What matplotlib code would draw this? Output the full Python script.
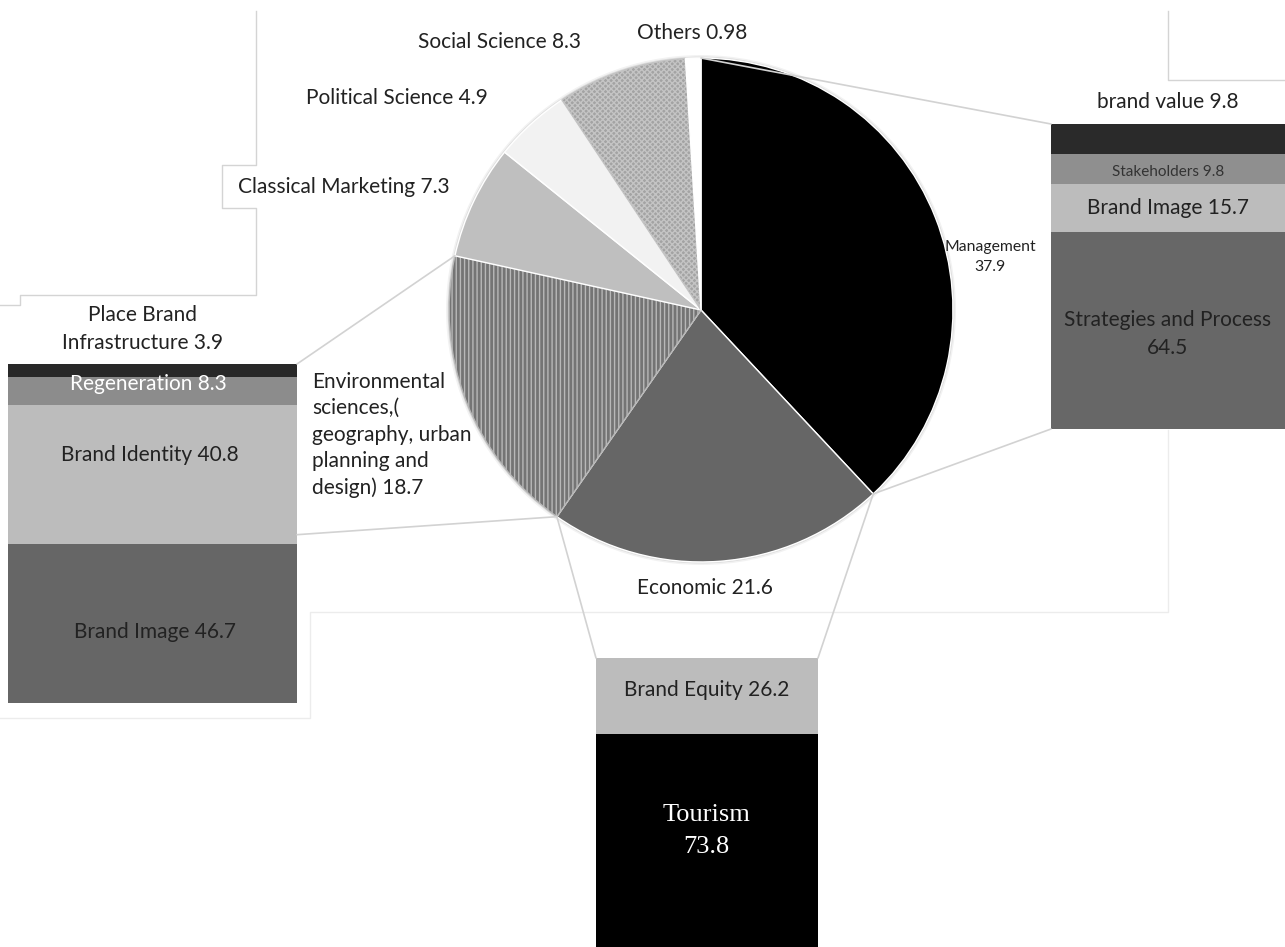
import numpy as np
import matplotlib.pyplot as plt
from matplotlib.patches import ConnectionPatch, Circle

W, H = 1285, 947

pie_labels = ["Management\n", "Economic",
              "Environmental\nsciences,(\ngeography, urban\nplanning and\ndesign)",
              "Classical Marketing", "Political Science", "Social Science", "Others"]
pie_values = [37.9, 21.6, 18.7, 7.3, 4.9, 8.3, 0.98]
pie_colors = ["#000000", "#666666", "#747474", "#bfbfbf", "#f2f2f2", "#a3a3a3", "#ffffff"]

left_labels = ["Brand Image", "Brand Identity", "Regeneration", "Place Brand\nInfrastructure"]
left_values = [46.7, 40.8, 8.3, 3.9]
left_colors = ["#666666", "#bcbcbc", "#8c8c8c", "#282828"]

right_labels = ["Strategies and Process\n", "Brand Image", "Stakeholders", "brand value"]
right_values = [64.5, 15.7, 9.8, 9.8]
right_colors = ["#676767", "#bcbcbc", "#8f8f8f", "#2a2a2a"]

bottom_labels = ["Tourism\n", "Brand Equity"]
bottom_values = [73.8, 26.2]
bottom_colors = ["#000000", "#bcbcbc"]

SANS = ["Lato", "DejaVu Sans"]
TXT = "#222222"
FS = 15


def px_axes(fig, x0, y0, x1, y1):
    return fig.add_axes([x0 / W, 1 - y1 / H, (x1 - x0) / W, (y1 - y0) / H])


def px_text(fig, x, y, s, **kw):
    kw.setdefault("ha", "center")
    kw.setdefault("va", "center")
    kw.setdefault("color", TXT)
    kw.setdefault("family", SANS)
    kw.setdefault("fontsize", FS)
    fig.text(x / W, 1 - y / H, s, **kw)


def stack(ax, values, colors):
    bottom = 0
    for v, c in zip(values, colors):
        ax.bar(0, v, bottom=bottom, width=1, color=c, linewidth=0)
        bottom += v
    ax.set_xlim(-0.5, 0.5)
    ax.set_ylim(0, sum(values))
    ax.axis("off")


def lab(label, value):
    sep = "" if label.endswith("\n") else " "
    return f"{label}{sep}{value:g}"


fig = plt.figure(figsize=(W / 100, H / 100), dpi=100)

# faint frame lines left over from the original layout
bg = fig.add_axes([0, 0, 1, 1])
bg.set_xlim(0, W)
bg.set_ylim(H, 0)
bg.axis("off")
frame = "#d4d4d4"
bg.plot([256, 256, 222, 222, 256, 256, 20, 20, 0],
        [11, 165, 165, 208, 208, 295, 295, 305, 305], color=frame, lw=1)
bg.plot([1168, 1168, 1285], [11, 80, 80], color=frame, lw=1)
bg.plot([1168, 1168, 310, 310, 0], [430, 612, 612, 718, 718], color="#ececec", lw=1)

# pie, centre (701, 310), radius 252 px
ax_pie = px_axes(fig, 444, 53, 958, 567)
# soft shadow round the pie edge
for r, a in [(1.012, 0.05), (1.006, 0.08)]:
    ax_pie.add_patch(Circle((0, 0), r, facecolor="black", edgecolor="none", alpha=a, zorder=0))
wedges, _ = ax_pie.pie(pie_values, colors=pie_colors, startangle=90, counterclock=False,
                       wedgeprops=dict(edgecolor="white", linewidth=1))
wedges[2].set_hatch("||||")
wedges[2].set_edgecolor("#b8b8b8")
wedges[5].set_hatch("xxxxxx")
wedges[5].set_edgecolor("#c4c4c4")
ax_pie.set_xlim(-1.02, 1.02)
ax_pie.set_ylim(-1.02, 1.02)
ax_pie.axis("off")

# bars
ax_left = px_axes(fig, 8, 364, 297, 703)
stack(ax_left, left_values, left_colors)
ax_right = px_axes(fig, 1051, 124, 1290, 429)
stack(ax_right, right_values, right_colors)
ax_bot = px_axes(fig, 596, 658, 818, 947)
stack(ax_bot, bottom_values, bottom_colors)


def pie_pt(theta):
    t = np.deg2rad(theta)
    return (np.cos(t), np.sin(t))


links = [
    (pie_pt(wedges[0].theta2), ax_right, (-0.5, sum(right_values))),
    (pie_pt(wedges[0].theta1), ax_right, (-0.5, 0)),
    (pie_pt(wedges[0].theta1), ax_bot, (0.5, sum(bottom_values))),
    (pie_pt(wedges[1].theta1), ax_bot, (-0.5, sum(bottom_values))),
    (pie_pt(wedges[1].theta1), ax_left, (0.5, 49.5)),
    (pie_pt(wedges[2].theta1), ax_left, (0.5, sum(left_values))),
]
for pa, axb, pb in links:
    con = ConnectionPatch(xyA=pa, coordsA=ax_pie.transData, xyB=pb, coordsB=axb.transData,
                          color="#d2d2d2", lw=1.2)
    fig.add_artist(con)

# pie labels
px_text(fig, 990, 257, lab(pie_labels[0], pie_values[0]), fontsize=11.3, linespacing=1.5)
px_text(fig, 705, 588, lab(pie_labels[1], pie_values[1]))
px_text(fig, 312, 435, lab(pie_labels[2], pie_values[2]), ha="left", linespacing=1.4)
px_text(fig, 344, 187, lab(pie_labels[3], pie_values[3]))
px_text(fig, 397, 98, lab(pie_labels[4], pie_values[4]))
px_text(fig, 500, 42, lab(pie_labels[5], pie_values[5]))
px_text(fig, 692, 33, lab(pie_labels[6], pie_values[6]))

# left bar labels
px_text(fig, 155, 632, lab(left_labels[0], left_values[0]))
px_text(fig, 150, 455, lab(left_labels[1], left_values[1]))
px_text(fig, 148, 384, lab(left_labels[2], left_values[2]), color="white")
px_text(fig, 142, 329, lab(left_labels[3], left_values[3]), linespacing=1.45)

# right bar labels
px_text(fig, 1168, 334, lab(right_labels[0], right_values[0]), linespacing=1.5)
px_text(fig, 1168, 208, lab(right_labels[1], right_values[1]))
px_text(fig, 1168, 172, lab(right_labels[2], right_values[2]), fontsize=11, color="#333333")
px_text(fig, 1168, 102, lab(right_labels[3], right_values[3]))

# bottom bar labels
px_text(fig, 706, 831, lab(bottom_labels[0], bottom_values[0]), color="white",
        family=["Liberation Serif", "DejaVu Serif"], fontsize=19, linespacing=1.6)
px_text(fig, 707, 690, lab(bottom_labels[1], bottom_values[1]))

fig.savefig("out.png", dpi=100)
